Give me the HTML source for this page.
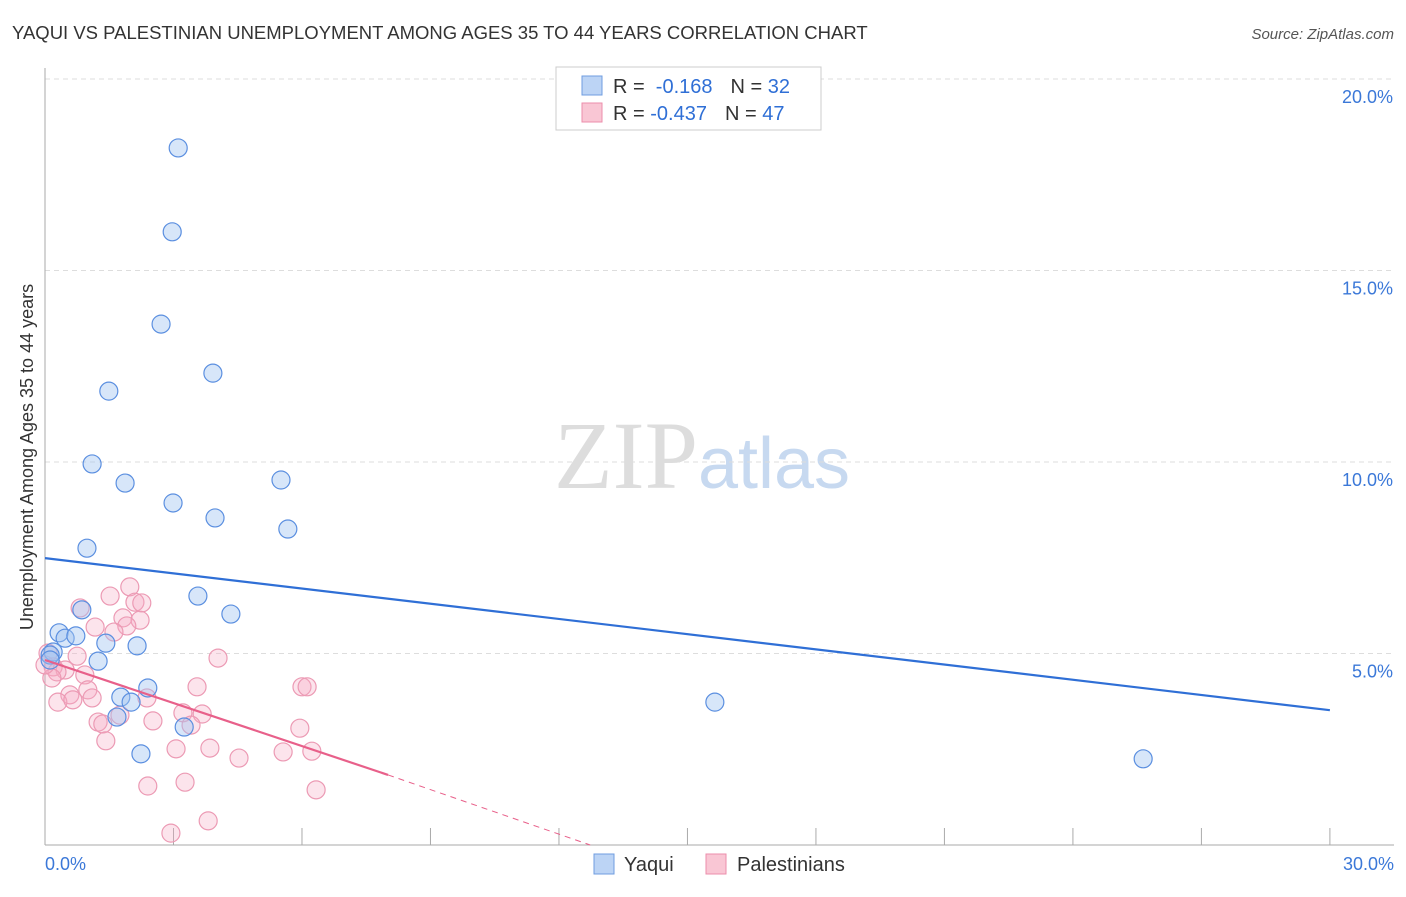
<!DOCTYPE html>
<html><head><meta charset="utf-8"><style>
body{margin:0;background:#fff;font-family:"Liberation Sans",sans-serif}
</style></head><body>
<svg id="chart" width="1406" height="892" xmlns="http://www.w3.org/2000/svg" style="font-family:'Liberation Sans',sans-serif">
<text x="12" y="39" font-size="18.5" fill="#333">YAQUI VS PALESTINIAN UNEMPLOYMENT AMONG AGES 35 TO 44 YEARS CORRELATION CHART</text>
<text x="1394" y="39" font-size="15" fill="#555" text-anchor="end" font-style="italic">Source: ZipAtlas.com</text>
<text x="702" y="488" font-size="96" text-anchor="middle"><tspan font-family="Liberation Serif" fill="#ddd">ZIP</tspan><tspan fill="#c7d9f0" font-size="72">atlas</tspan></text>
<g id="grid"></g>
<g id="axes"></g>
<g id="marks"></g>
<text transform="translate(33,457) rotate(-90)" font-size="18" fill="#333" text-anchor="middle">Unemployment Among Ages 35 to 44 years</text>
<g>
<rect x="556" y="67" width="265" height="63" fill="#fff" stroke="#ccc"/>
<rect x="582" y="76" width="20" height="19" fill="#bcd4f5" stroke="#6f9de0"/>
<rect x="582" y="103" width="20" height="19" fill="#f9c6d4" stroke="#ec8eab"/>
<text x="613" y="93" font-size="20" fill="#333">R = <tspan fill="#2f6fd6">&#160;-0.168</tspan><tspan dx="18">N = </tspan><tspan fill="#2f6fd6">32</tspan></text>
<text x="613" y="120" font-size="20" fill="#333">R = <tspan fill="#2f6fd6">-0.437</tspan><tspan dx="18">N = </tspan><tspan fill="#2f6fd6">47</tspan></text>
</g>
<g>
<rect x="594" y="854" width="20" height="20" fill="#bcd4f5" stroke="#6f9de0"/>
<text x="624" y="871" font-size="20" fill="#333">Yaqui</text>
<rect x="706" y="854" width="20" height="20" fill="#f9c6d4" stroke="#ec8eab"/>
<text x="737" y="871" font-size="20" fill="#333">Palestinians</text>
</g>
</svg>
<script>
const yTicks=[5,10,15,20];
const yTickLabels=["5.0%","10.0%","15.0%","20.0%"];
const xTickVals=[0,3,6,9,12,15,18,21,24,27,30];
const xLabels=["0.0%","30.0%"];
const yaquiX=[3.11,2.97,2.71,3.92,1.49,1.10,1.87,2.99,5.51,3.97,5.67,0.98,3.57,4.34,0.86,0.33,0.47,0.72,1.42,2.15,1.24,0.19,0.12,1.77,2.40,2.01,1.68,3.25,2.24,15.64,25.64,0.12];
const yaquiY=[18.20,16.01,13.60,12.32,11.85,9.95,9.45,8.93,9.53,8.54,8.25,7.75,6.50,6.03,6.14,5.54,5.40,5.46,5.27,5.20,4.80,5.04,4.96,3.86,4.10,3.73,3.34,3.08,2.38,3.73,2.25,4.83];
const palX=[1.98,1.52,2.10,2.26,0.82,1.82,2.22,1.91,1.17,1.61,0.75,4.04,0.19,0.47,0.28,0.93,0.16,1.00,3.55,6.00,6.12,0.58,0.30,0.65,1.10,2.38,3.22,3.67,1.24,1.35,1.75,2.52,3.41,5.95,1.42,3.06,3.85,4.53,5.56,6.23,2.40,3.27,6.33,3.81,2.94,0.07,0.0];
const palY=[6.74,6.50,6.34,6.32,6.19,5.93,5.87,5.72,5.69,5.56,4.93,4.88,4.65,4.57,4.52,4.44,4.36,4.05,4.13,4.13,4.13,3.92,3.73,3.79,3.84,3.84,3.45,3.42,3.21,3.16,3.39,3.24,3.13,3.05,2.72,2.51,2.53,2.27,2.43,2.45,1.54,1.64,1.44,0.63,0.31,5.01,4.70];
const yaquiFit=[7.49,3.52];
const palFit=[4.83,1.83,8.01,12.73];
const NS="http://www.w3.org/2000/svg";
const X=v=>45+v*42.83, Y=v=>845-v*38.3;
function mk(tag,attrs,parent){const e=document.createElementNS(NS,tag);for(const k in attrs)e.setAttribute(k,attrs[k]);document.getElementById(parent).appendChild(e);return e;}
yTicks.forEach((t,i)=>{
 const g=mk('line',{x1:45,x2:1394,y1:Y(t),y2:Y(t),stroke:'#ddd','stroke-dasharray':'5,4'},'grid');
 
 
 const l=mk('text',{x:1393,y:Y(t)+24,'font-size':18,fill:'#3b78d8','text-anchor':'end'},'axes');
 l.textContent=yTickLabels[i];
 
 
});
const ax=mk('line',{x1:45,x2:1394,y1:845,y2:845,stroke:'#aaa'},'axes');


const ay=mk('line',{x1:45,x2:45,y1:68,y2:845,stroke:'#aaa'},'axes');


xTickVals.forEach(t=>{
 const e=mk('line',{x1:X(t),x2:X(t),y1:828,y2:845,stroke:'#aaa'},'axes');
 
 
});
[[0,'start'],[30,'end']].forEach((p,i)=>{
 const l=mk('text',{x:i?1394:45,y:870,'font-size':18,fill:'#3b78d8','text-anchor':p[1]},'axes');
 l.textContent=xLabels[i];
 
 
});
palX.forEach((x,i)=>{
 const c=mk('circle',{cx:X(x),cy:Y(palY[i]),r:9,fill:'rgba(246,170,195,0.32)',stroke:'#ec9ab4','stroke-width':1.2},'marks');
 
 
});
yaquiX.forEach((x,i)=>{
 const c=mk('circle',{cx:X(x),cy:Y(yaquiY[i]),r:9,fill:'rgba(160,195,240,0.42)',stroke:'#5b8fe0','stroke-width':1.2},'marks');
 
 
});
const bl=mk('line',{x1:X(0),y1:Y(yaquiFit[0]),x2:X(30),y2:Y(yaquiFit[1]),stroke:'#2f6fd6','stroke-width':2.2},'marks');


const pl=mk('line',{x1:X(0),y1:Y(palFit[0]),x2:X(palFit[2]),y2:Y(palFit[1]),stroke:'#e8608a','stroke-width':2.2},'marks');


const pd=mk('line',{x1:X(palFit[2]),y1:Y(palFit[1]),x2:X(palFit[3]),y2:Y(0),stroke:'#e8608a','stroke-width':1,'stroke-dasharray':'6,5'},'marks');


</script>
</body></html>
